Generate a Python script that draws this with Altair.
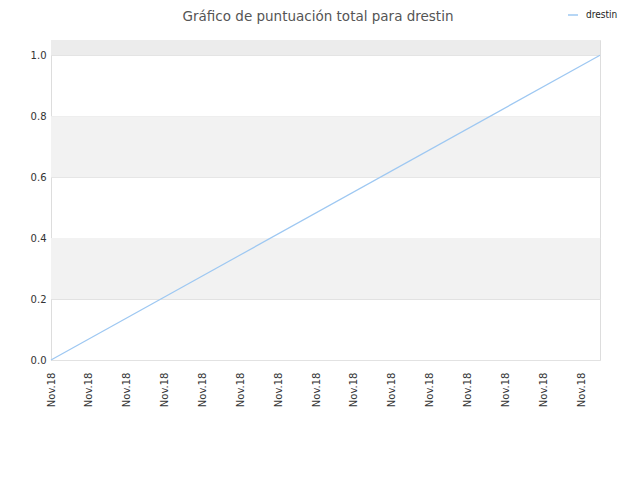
import altair as alt
import pandas as pd

# Data
positions = [0, 14.5]
scores = [0.0, 1.0]
series = ["drestin", "drestin"]
tick_positions = list(range(15))
tick_label = "Nov.18"
band_lo = [0.2, 0.6, 1.0]
band_hi = [0.4, 0.8, 1.05]
band_fill = ["#f2f2f2", "#f2f2f2", "#ececec"]
chart_title = ["Gráfico de puntuación total para drestin"]

line_df = pd.DataFrame({"pos": positions, "score": scores, "serie": series})
band_df = pd.DataFrame({"lo": band_lo, "hi": band_hi, "fill": band_fill})
title_df = pd.DataFrame({"t": chart_title})

FONT = "DejaVu Sans"

xscale = alt.Scale(domain=[0, 14.5], nice=False, zero=False)
yscale = alt.Scale(domain=[0, 1.05], nice=False)

bands = alt.Chart(band_df).mark_rect().encode(
    x=alt.value(0),
    x2=alt.value(549),
    y=alt.Y("lo:Q", scale=yscale),
    y2="hi:Q",
    color=alt.Color("fill:N", scale=None),
)

title = alt.Chart(title_df).mark_text(
    font=FONT, fontSize=13.5, color="#555555", align="center", baseline="alphabetic"
).encode(
    x=alt.value(267),
    y=alt.value(-19.5),
    text="t:N",
)

line = alt.Chart(line_df).mark_line(strokeWidth=1.2).encode(
    x=alt.X(
        "pos:Q",
        scale=xscale,
        axis=alt.Axis(
            values=tick_positions,
            labelExpr=f"'{tick_label}'",
            labelAngle=-90,
            labelAlign="right",
            labelBaseline="middle",
            labelPadding=12,
            ticks=False,
            domain=False,
            grid=False,
            title=None,
            labelFont=FONT,
            labelFontSize=10,
            labelColor="#333333",
            labelOverlap=False,
        ),
    ),
    y=alt.Y(
        "score:Q",
        scale=yscale,
        axis=alt.Axis(
            values=[0, 0.2, 0.4, 0.6, 0.8, 1.0],
            format=".1f",
            ticks=False,
            domain=False,
            grid=True,
            gridColor="#e2e2e2",
            labelPadding=5,
            title=None,
            labelFont=FONT,
            labelFontSize=10,
            labelColor="#333333",
        ),
    ),
    color=alt.Color(
        "serie:N",
        scale=alt.Scale(range=["#9ec8f2"]),
        legend=alt.Legend(
            title=None,
            orient="none",
            legendX=516,
            legendY=-31,
            symbolType="stroke",
            symbolSize=100,
            symbolStrokeWidth=1.5,
            labelFont="DejaVu Sans Condensed",
            labelFontSize=10,
            labelColor="#222222",
            labelOffset=7,
        ),
    ),
)

chart = alt.layer(bands, line, title).properties(
    width=549,
    height=320,
    autosize=alt.AutoSizeParams(type="none"),
    padding={"left": 43, "top": 32, "right": 32, "bottom": 112},
).configure_view(stroke="#dddddd", strokeWidth=1)

chart.save("out.html", embed_options={"renderer": "svg", "actions": False})
